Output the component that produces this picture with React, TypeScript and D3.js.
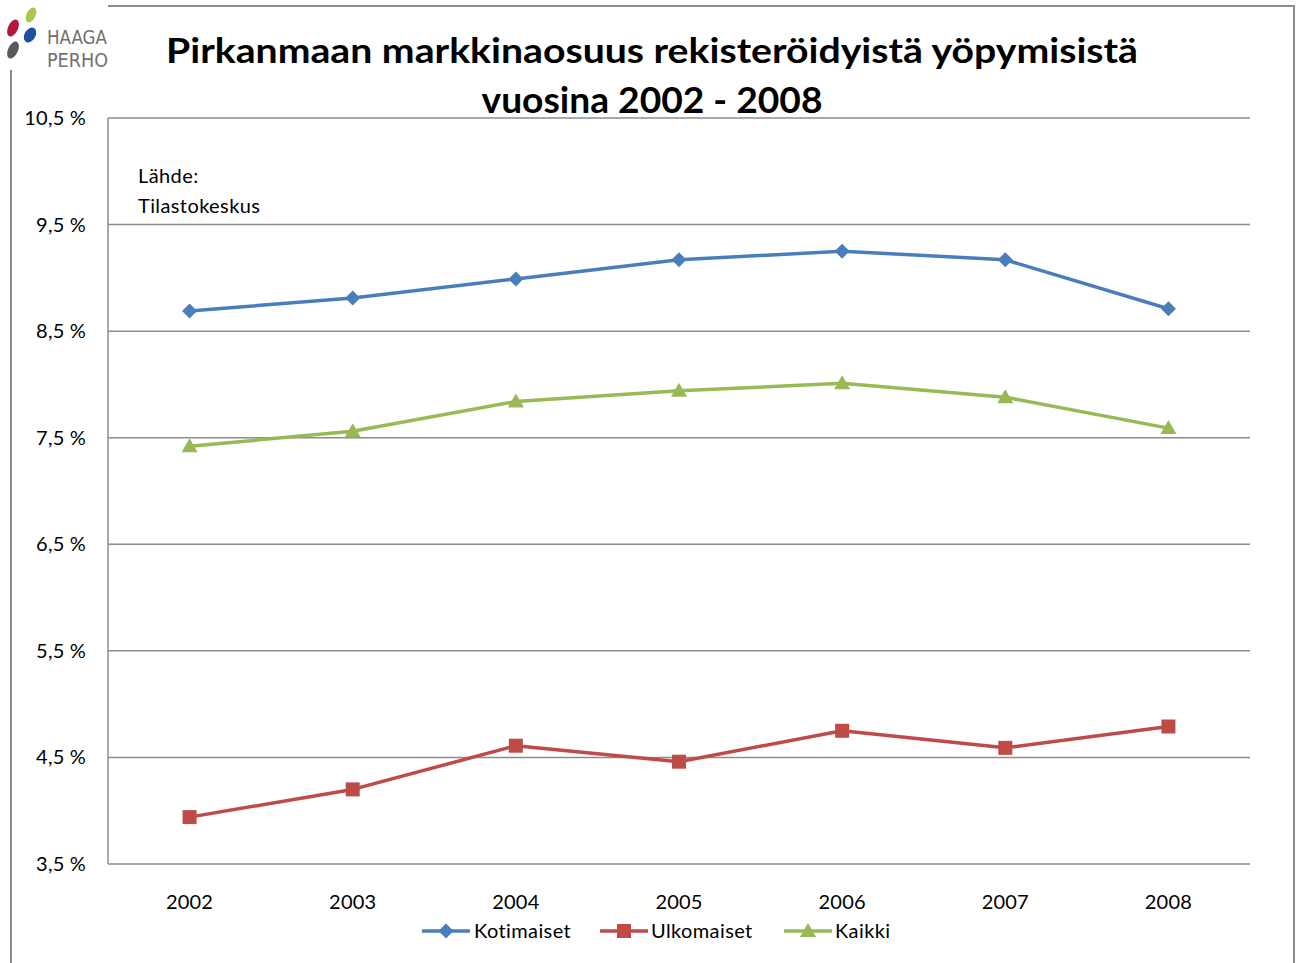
import React from 'react';
import * as d3 from 'd3';

const years = ['2002', '2003', '2004', '2005', '2006', '2007', '2008'];
const kotimaiset = [8.69, 8.81, 8.99, 9.17, 9.25, 9.17, 8.71];
const ulkomaiset = [3.94, 4.2, 4.61, 4.46, 4.75, 4.59, 4.79];
const kaikki = [7.42, 7.56, 7.84, 7.94, 8.01, 7.88, 7.59];
const yTicks = [3.5, 4.5, 5.5, 6.5, 7.5, 8.5, 9.5, 10.5];

const series = [
  { name: 'Kotimaiset', values: kotimaiset, color: '#4A7EBB', marker: 'diamond' },
  { name: 'Ulkomaiset', values: ulkomaiset, color: '#BE4B48', marker: 'square' },
  { name: 'Kaikki', values: kaikki, color: '#98B954', marker: 'triangle' },
];

const W = 1297;
const H = 963;
const plot = { left: 108, top: 118, right: 1250, bottom: 864 };
const font = 'Lato, "Open Sans", sans-serif';
const narrow = "'Liberation Sans Narrow', 'DejaVu Sans Condensed', sans-serif";

const Marker = ({ type, x, y, color }: { type: string; x: number; y: number; color: string }) => {
  if (type === 'diamond') {
    const s = 7.5;
    return <path d={`M${x},${y - s}L${x + s},${y}L${x},${y + s}L${x - s},${y}Z`} fill={color} />;
  }
  if (type === 'square') {
    return <rect x={x - 7} y={y - 7} width={14} height={14} fill={color} />;
  }
  const s = 8;
  return <path d={`M${x},${y - s}L${x + s},${y + s * 0.75}L${x - s},${y + s * 0.75}Z`} fill={color} />;
};

export default function App() {
  const x = d3.scaleBand<string>().domain(years).range([plot.left, plot.right]);
  const y = d3.scaleLinear().domain([3.5, 10.5]).range([plot.bottom, plot.top]);
  const cx = (d: string) => (x(d) ?? 0) + x.bandwidth() / 2;
  const fmt = (v: number) => d3.format('.1f')(v).replace('.', ',') + ' %';

  const line = d3
    .line<number>()
    .x((_, i) => cx(years[i]))
    .y((v) => y(v));

  const legendItems = [
    { s: series[0], x: 422, tx: 474 },
    { s: series[1], x: 600, tx: 651 },
    { s: series[2], x: 784, tx: 835 },
  ];

  const label = { fontSize: 20, fill: '#000', letterSpacing: 0.4 };

  return (
    <svg
      width={W}
      height={H}
      style={{ position: 'fixed', left: 0, top: 0, background: '#fff', fontFamily: font }}
    >
      {/* outer chart border */}
      <rect x={11} y={6} width={1283} height={H + 20} fill="none" stroke="#8c8c8c" strokeWidth={2} />

      {/* gridlines */}
      {yTicks.map((t) => (
        <line key={t} x1={plot.left} x2={plot.right} y1={y(t)} y2={y(t)} stroke="#8c8c8c" strokeWidth={1.5} />
      ))}
      <line x1={plot.left} x2={plot.left} y1={plot.top} y2={plot.bottom} stroke="#8c8c8c" strokeWidth={1.5} />

      {/* y tick labels */}
      {yTicks.map((t) => (
        <text key={t} x={86} y={y(t)} dy="0.35em" textAnchor="end" {...label} letterSpacing={0.2}>
          {fmt(t)}
        </text>
      ))}

      {/* x tick labels */}
      {years.map((d) => (
        <text key={d} x={cx(d)} y={902} dy="0.35em" textAnchor="middle" {...label} letterSpacing={0.2}>
          {d}
        </text>
      ))}

      {/* series */}
      {series.map((s) => (
        <g key={s.name}>
          <path d={line(s.values) ?? ''} fill="none" stroke={s.color} strokeWidth={3.5} strokeLinejoin="round" />
          {s.values.map((v, i) => (
            <Marker key={i} type={s.marker} x={cx(years[i])} y={y(v)} color={s.color} />
          ))}
        </g>
      ))}

      {/* source note */}
      <text x={138} y={176} dy="0.35em" {...label}>Lähde:</text>
      <text x={138} y={206} dy="0.35em" {...label}>Tilastokeskus</text>

      {/* legend */}
      {legendItems.map(({ s, x: lx, tx }) => (
        <g key={s.name}>
          <line x1={lx} x2={lx + 48} y1={931} y2={931} stroke={s.color} strokeWidth={3.5} />
          <Marker type={s.marker} x={lx + 24} y={931} color={s.color} />
          <text x={tx} y={931} dy="0.35em" {...label}>{s.name}</text>
        </g>
      ))}

      {/* title */}
      <text x={652} y={51} dy="0.35em" textAnchor="middle" fontSize={35} fontWeight="bold" fill="#000"
        textLength={972} lengthAdjust="spacingAndGlyphs">
        Pirkanmaan markkinaosuus rekisteröidyistä yöpymisistä
      </text>
      <text x={652} y={100} dy="0.35em" textAnchor="middle" fontSize={36} fontWeight="bold" fill="#000"
        textLength={341} lengthAdjust="spacingAndGlyphs">
        vuosina 2002 - 2008
      </text>

      {/* logo */}
      <rect x={0} y={0} width={108} height={70} fill="#fff" />
      <ellipse cx={31} cy={15} rx={4.5} ry={8} transform="rotate(25 31 15)" fill="#a6c84c" />
      <ellipse cx={13} cy={28} rx={5} ry={9} transform="rotate(25 13 28)" fill="#b5173a" />
      <ellipse cx={30} cy={35} rx={5.5} ry={8} transform="rotate(30 30 35)" fill="#1d4fa3" />
      <ellipse cx={13} cy={50} rx={5} ry={9} transform="rotate(25 13 50)" fill="#5a5a5a" />
      <text x={47} y={44} fontSize={19} fill="#707070" fontFamily={narrow} textLength={60} lengthAdjust="spacingAndGlyphs">HAAGA</text>
      <text x={47} y={67} fontSize={19} fill="#707070" fontFamily={narrow} textLength={61} lengthAdjust="spacingAndGlyphs">PERHO</text>
    </svg>
  );
}
